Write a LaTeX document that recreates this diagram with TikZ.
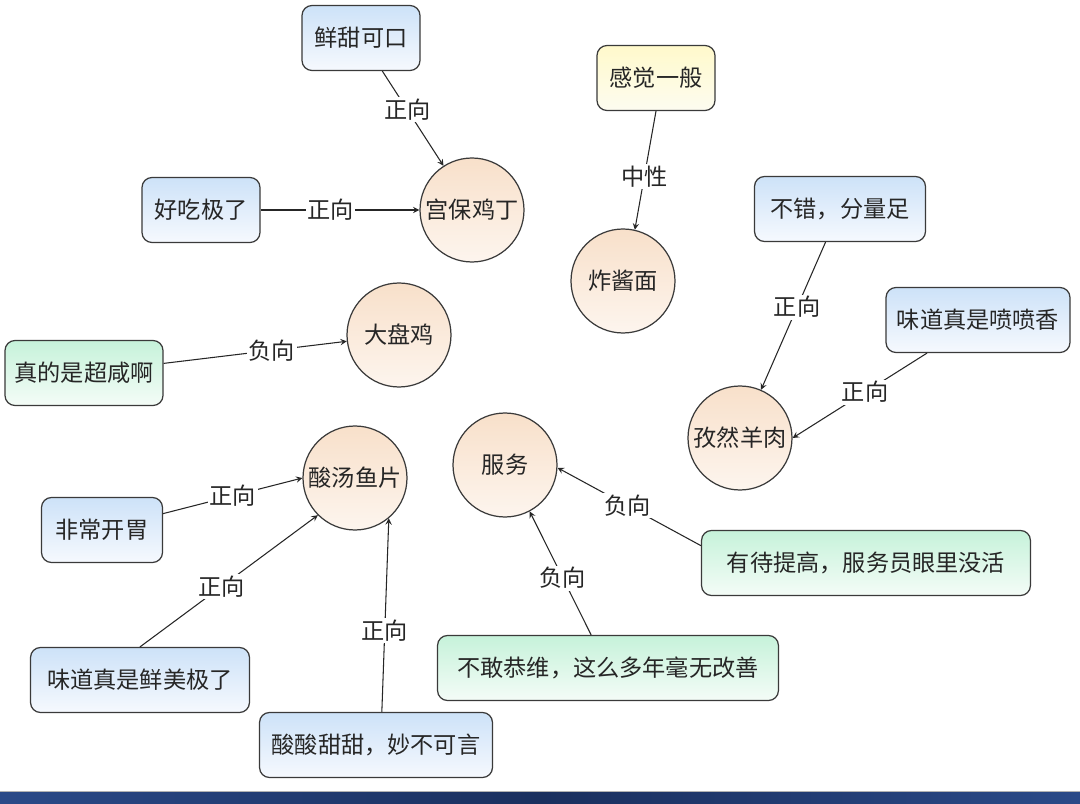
\documentclass[tikz,border=0pt]{standalone}
\usepackage{fontspec}
\setmainfont{Noto Sans CJK SC}
\usetikzlibrary{arrows,positioning,shapes,calc}

\definecolor{edgegray}{HTML}{3A3A3A}
\definecolor{dishtop}{HTML}{F8E0CA}
\definecolor{dishbot}{HTML}{FDF5EE}
\definecolor{postop}{HTML}{CDE2F8}
\definecolor{posbot}{HTML}{F6F9FE}
\definecolor{negtop}{HTML}{C6F2DA}
\definecolor{negbot}{HTML}{F4FCF7}
\definecolor{neutop}{HTML}{FFF9CB}
\definecolor{neubot}{HTML}{FDFCF0}
\definecolor{barmid}{HTML}{1A2F5E}
\definecolor{barside}{HTML}{2B4A88}

\begin{document}
\begin{tikzpicture}[x=0.02cm, y=-0.02cm,
    every node/.style={font=\fontsize{13.2}{16}\selectfont, text=black!85},
    dish/.style={circle, draw=edgegray, line width=0.7pt, top color=dishtop, bottom color=dishbot, minimum size=2.08cm, inner sep=0pt},
    card/.style={rectangle, rounded corners=0.2cm, draw=edgegray, line width=0.7pt, minimum height=1.3cm, inner sep=0pt},
    posbox/.style={card, top color=postop, bottom color=posbot},
    negbox/.style={card, top color=negtop, bottom color=negbot},
    neubox/.style={card, top color=neutop, bottom color=neubot},
    link/.style={->, >=stealth, line width=0.6pt, draw=black!85},
    lbl/.style={fill=white, inner sep=1pt}]
    \useasboundingbox (0,0) rectangle (1080,804);
    \fill[white] (0,0) rectangle (1080,804);

    % Dishes
    \node[dish] (gongbao) at (472,210) {宫保鸡丁};
    \node[dish] (zhajiang) at (623,281) {炸酱面};
    \node[dish] (dapanji) at (399,335) {大盘鸡};
    \node[dish] (ziran) at (740,438) {孜然羊肉};
    \node[dish] (suantang) at (355,478) {酸汤鱼片};
    \node[dish] (fuwu) at (505,465) {服务};

    % Comments
    \node[posbox, minimum width=2.36cm] (xiantian) at (361,38) {鲜甜可口};
    \node[posbox, minimum width=2.36cm] (haochi) at (201,210) {好吃极了};
    \node[neubox, minimum width=2.36cm] (ganjue) at (656,78) {感觉一般};
    \node[posbox, minimum width=3.42cm] (fenliang) at (840,209) {不错，分量足};
    \node[posbox, minimum width=3.68cm] (penpen) at (978,320) {味道真是喷喷香};
    \node[negbox, minimum width=3.16cm] (xian) at (84,373) {真的是超咸啊};
    \node[posbox, minimum width=2.42cm] (kaiwei) at (102,530) {非常开胃};
    \node[negbox, minimum width=6.58cm] (tigao) at (866,563) {有待提高，服务员眼里没活};
    \node[negbox, minimum width=6.82cm] (gaishan) at (608,668) {不敢恭维，这么多年毫无改善};
    \node[posbox, minimum width=4.38cm] (xianmei) at (140,680) {味道真是鲜美极了};
    \node[posbox, minimum width=4.66cm] (suantian) at (376,745) {酸酸甜甜，妙不可言};

    % Sentiment links
    \draw[link] (xiantian) -- node[lbl, pos=0.41] {正向} (gongbao);
    \draw[link] (haochi) -- node[lbl, pos=0.44] {正向} (gongbao);
    \draw[link] (ganjue.south) -- node[lbl, pos=0.55] {中性} (zhajiang.77);
    \draw[link] (xian) -- node[lbl, pos=0.59] {负向} (dapanji);
    \draw[link] (fenliang) -- node[lbl, pos=0.44] {正向} (ziran);
    \draw[link] (penpen.213) -- node[lbl, pos=0.46] {正向} (ziran.0);
    \draw[link] (kaiwei.15) -- node[lbl, pos=0.5] {正向} (suantang.west);
    \draw[link] (xianmei.north) -- node[lbl, pos=0.46] {正向} (suantang.225);
    \draw[link] (suantian.80) -- node[lbl, pos=0.42] {正向} (suantang.310);
    \draw[link] (gaishan.117) -- node[lbl, pos=0.46] {负向} (fuwu.298);
    \draw[link] (tigao.174) -- node[lbl, pos=0.51] {负向} (fuwu.357);

    % Bottom bar
    \shade[left color=barside, right color=barside, middle color=barmid] (0,791) rectangle (1080,804);
    \draw[gray!60, line width=0.4pt] (0,791) -- (1080,791);
\end{tikzpicture}
\end{document}
